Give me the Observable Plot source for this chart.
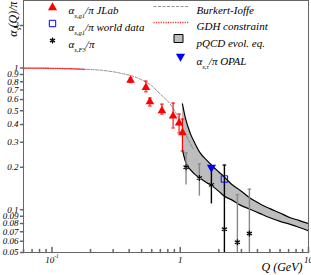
<!DOCTYPE html>
<html><head><meta charset="utf-8">
<script src="https://cdn.jsdelivr.net/npm/d3@7"></script>
<script src="https://cdn.jsdelivr.net/npm/@observablehq/plot@0.6"></script>
<style>html,body{margin:0;padding:0;background:#fff}svg{display:block}</style>
</head><body><div id="chart"></div>
<script>
// ---- data ----
const jlabQ  = [0.41, 0.54, 0.58, 0.72, 0.88, 0.98, 1.04];
const jlabA  = [0.82, 0.73, 0.58, 0.50, 0.46, 0.41, 0.35];
const jlabLo = [0.79, 0.68, 0.54, 0.474, 0.378, 0.349, 0.26];
const jlabHi = [0.855, 0.81, 0.615, 0.557, 0.567, 0.474, 0.437];

const f3Q   = [1.11, 1.41, 1.75, 2.21, 2.79, 3.46];
const f3A   = [0.20, 0.168, 0.15, 0.073, 0.059, 0.068];
const f3Lo  = [0.15, 0.125, 0.11, 0.03, 0.03, 0.03];
const f3Hi  = [0.252, 0.211, 0.198, 0.207, 0.128, 0.14];
const f3Bar = ["#888", "#888", "#000", "#000", "#888", "#888"];

const worldQ = [2.21];
const worldA = [0.165];
const opalQ = [1.75];
const opalA = [0.199];

const biQ = [0.06, 0.1, 0.166, 0.237, 0.34, 0.487, 0.60, 0.698, 0.835, 0.965, 1.114, 1.26];
const biA = [1.0, 0.995, 0.984, 0.968, 0.922, 0.837, 0.75, 0.656, 0.558, 0.45, 0.335, 0.27];

const gdhQ = [0.06, 0.1, 0.14, 0.18];
const gdhA = [1.0, 0.997, 0.99, 0.98];

const bandQ  = [1.04, 1.1, 1.2, 1.3, 1.43, 1.6, 1.78, 2.0, 2.2, 2.5, 2.94, 3.5, 4.2, 5.0, 6.0, 7.2, 8.5, 10];
const bandHi = [0.56, 0.44, 0.345, 0.295, 0.252, 0.225, 0.204, 0.185, 0.171, 0.152, 0.137, 0.121, 0.110, 0.102, 0.095, 0.088, 0.084, 0.080];
const bandLo = [0.265, 0.218, 0.192, 0.178, 0.167, 0.156, 0.147, 0.135, 0.125, 0.118, 0.108, 0.101, 0.094, 0.088, 0.083, 0.079, 0.075, 0.071];

const yTicks = [0.05, 0.06, 0.07, 0.08, 0.09, 0.1, 0.2, 0.3, 0.4, 0.5, 0.6, 0.7, 0.8, 0.9, 1, 2];
const yTickLabels = ["0.05", "0.06", "0.07", "0.08", "0.09", "0.1", "0.2", "0.3", "0.4", "0.5", "0.6", "0.7", "0.8", "0.9", "1", "2"];
const xMinorTicks = [0.06, 0.07, 0.08, 0.09, 0.2, 0.3, 0.4, 0.5, 0.6, 0.7, 0.8, 0.9, 2, 3, 4, 5, 6, 7, 8, 9];
const xMajorTicks = [0.1, 1, 10];
const xTickLabels = ["10^{-1}", "1", "10"];

const legendLeft = ["α_{s,g1}/π JLab", "α_{s,g1}/π world data", "α_{s,F3}/π"];
const legendRight = ["Burkert-Ioffe", "GDH constraint", "pQCD evol. eq.", "α_{s,τ}/π OPAL"];
const yLabel = "α_{s}(Q)/π";
const xLabel = "Q (GeV)";

// ---- build tables ----
const jlab = jlabQ.map((q, i) => ({Q: q, A: jlabA[i], lo: jlabLo[i], hi: jlabHi[i]}));
const f3 = f3Q.map((q, i) => ({Q: q, A: f3A[i], lo: f3Lo[i], hi: f3Hi[i], c: f3Bar[i]}));
const world = worldQ.map((q, i) => ({Q: q, A: worldA[i]}));
const opal = opalQ.map((q, i) => ({Q: q, A: opalA[i]}));
const bi = biQ.map((q, i) => ({Q: q, A: biA[i]}));
const gdh = gdhQ.map((q, i) => ({Q: q, A: gdhA[i]}));
const band = bandQ.map((q, i) => ({Q: q, lo: bandLo[i], hi: bandHi[i]}));

// ---- custom symbols / shapes ----
const cap = {draw(ctx) { ctx.moveTo(-1.8, 0); ctx.lineTo(1.8, 0); }};
const legLine = {draw(ctx) { ctx.moveTo(-18, 0); ctx.lineTo(18, 0); }};
const legBox = {draw(ctx) { ctx.rect(-4.5, -4, 9, 8); }};
const tickShape = {draw(ctx, l) { ctx.moveTo(0, 0); ctx.lineTo(0, -l); }};

const axisColor = "#666";
const font = "Liberation Serif";
const legText = {frameAnchor: "top-left", textAnchor: "start", fontSize: 11, fontStyle: "italic", fill: "black"};

const plot = Plot.plot({
  width: 311, height: 275,
  marginLeft: 23, marginRight: 3, marginTop: 0, marginBottom: 23,
  x: {type: "log", domain: [0.06, 10], axis: null, label: null},
  y: {type: "log", domain: [0.05, 3], axis: null, label: null},
  style: {fontFamily: font, background: "white", overflow: "visible"},
  marks: [
    // pQCD band
    Plot.areaY(band, {x: "Q", y1: "lo", y2: "hi", fill: "#bdbdbd", curve: "monotone-x", clip: true}),
    Plot.line(band, {x: "Q", y: "hi", stroke: "black", strokeWidth: 1.2, curve: "monotone-x", clip: true}),
    Plot.line(band, {x: "Q", y: "lo", stroke: "black", strokeWidth: 1.2, curve: "monotone-x", clip: true}),
    // Burkert-Ioffe
    Plot.line(bi, {x: "Q", y: "A", stroke: "#777", strokeWidth: 0.8, strokeDasharray: "3,1.5", curve: "monotone-x", clip: true}),
    // GDH constraint
    Plot.line(gdh, {x: "Q", y: "A", stroke: "#ff3030", strokeWidth: 1.3, strokeDasharray: "1.2,1.2", curve: "monotone-x", clip: true}),
    // F3 error bars
    Plot.ruleX(f3, {x: "Q", y1: "lo", y2: "hi", stroke: "c", strokeWidth: 1.4, clip: true}),
    Plot.dot(f3, {x: "Q", y: "hi", symbol: cap, stroke: "c", strokeWidth: 1.2, clip: true}),
    // JLab error bars
    Plot.ruleX(jlab, {x: "Q", y1: "lo", y2: "hi", stroke: "#ff0000", strokeWidth: 1.1, clip: true}),
    Plot.dot(jlab, {x: "Q", y: "lo", symbol: cap, stroke: "#ff0000", strokeWidth: 1, clip: true}),
    Plot.dot(jlab, {x: "Q", y: "hi", symbol: cap, stroke: "#ff0000", strokeWidth: 1, clip: true}),
    // markers
    Plot.dot(f3, {x: "Q", y: "A", symbol: "square", r: 2.2, fill: "#999", clip: true}),
    Plot.dot(f3, {x: "Q", y: "A", symbol: "asterisk", r: 2.8, stroke: "black", strokeWidth: 1.1, clip: true}),
    Plot.dot(jlab, {x: "Q", y: "A", symbol: "triangle", r: 3.2, fill: "#ff0000", clip: true}),
    Plot.dot(world, {x: "Q", y: "A", symbol: "square", r: 3.6, fill: "white", fillOpacity: 0, stroke: "#0000ff", strokeWidth: 1, clip: true}),
    Plot.dot(opal, {x: "Q", y: "A", symbol: "triangle", rotate: 180, r: 3.4, fill: "#0000ff", clip: true}),
    // frame and axes
    Plot.frame({stroke: axisColor, strokeWidth: 1}),
    Plot.vector(yTicks, {y: d => d, frameAnchor: "left", length: 3, rotate: -90, anchor: "start", shape: tickShape, stroke: axisColor}),
    Plot.text(yTicks, {y: d => d, text: (d, i) => yTickLabels[i], frameAnchor: "left", dx: -5, textAnchor: "end", fontSize: 9, fontStyle: "italic", fill: "black"}),
    Plot.vector(xMinorTicks, {x: d => d, frameAnchor: "bottom", length: 3, anchor: "start", shape: tickShape, stroke: axisColor}),
    Plot.vector(xMajorTicks, {x: d => d, frameAnchor: "bottom", length: 5, anchor: "start", shape: tickShape, stroke: axisColor}),
    Plot.text(xMajorTicks, {x: d => d, text: (d, i) => xTickLabels[i], frameAnchor: "bottom", dy: 10, fontSize: 9, fontStyle: "italic", fill: "black"}),
    // axis titles
    Plot.text([xLabel], {text: d => d, frameAnchor: "bottom-right", dx: -6, dy: 18, textAnchor: "end", fontSize: 12, fontStyle: "italic", fill: "black"}),
    Plot.text([yLabel], {text: d => d, frameAnchor: "top-left", dx: -15, dy: 1, rotate: -90, textAnchor: "end", fontSize: 12, fontStyle: "italic", fill: "black"}),
    // legend, left column
    Plot.dot([legendLeft[0]], {frameAnchor: "top-left", dx: 29, dy: 7, symbol: "triangle", r: 3.4, fill: "#ff0000"}),
    Plot.dot([legendLeft[1]], {frameAnchor: "top-left", dx: 29, dy: 23, symbol: "square", r: 3.6, fill: "white", stroke: "#0000ff", strokeWidth: 1}),
    Plot.dot([legendLeft[2]], {frameAnchor: "top-left", dx: 29, dy: 40, symbol: "square", r: 2.2, fill: "#999"}),
    Plot.dot([legendLeft[2]], {frameAnchor: "top-left", dx: 29, dy: 40, symbol: "asterisk", r: 2.8, stroke: "black", strokeWidth: 1.1}),
    Plot.text([legendLeft[0]], {...legText, text: d => d, dx: 45, dy: 6}),
    Plot.text([legendLeft[1]], {...legText, text: d => d, dx: 45, dy: 23}),
    Plot.text([legendLeft[2]], {...legText, text: d => d, dx: 45, dy: 40}),
    // legend, right column
    Plot.dot([legendRight[0]], {frameAnchor: "top-left", dx: 148, dy: 6, symbol: legLine, stroke: "#777", strokeWidth: 0.8, strokeDasharray: "3,1.5"}),
    Plot.dot([legendRight[1]], {frameAnchor: "top-left", dx: 148, dy: 22, symbol: legLine, stroke: "#ff3030", strokeWidth: 1.3, strokeDasharray: "1.2,1.2"}),
    Plot.dot([legendRight[2]], {frameAnchor: "top-left", dx: 155, dy: 38, symbol: legBox, fill: "#bdbdbd", stroke: "black", strokeWidth: 1}),
    Plot.dot([legendRight[3]], {frameAnchor: "top-left", dx: 157, dy: 56, symbol: "triangle", rotate: 180, r: 3.4, fill: "#0000ff"}),
    Plot.text([legendRight[0]], {...legText, text: d => d, dx: 173, dy: 6}),
    Plot.text([legendRight[1]], {...legText, text: d => d, dx: 173, dy: 22}),
    Plot.text([legendRight[2]], {...legText, text: d => d, dx: 173, dy: 39}),
    Plot.text([legendRight[3]], {...legText, text: d => d, dx: 173, dy: 57})
  ]
});

document.getElementById("chart").appendChild(plot);

// turn _{..} / ^{..} markup into sub/superscript tspans
function richify(svg) {
  d3.select(svg).selectAll("text").each(function () {
    const t = this;
    const s = t.textContent;
    if (!/[_^]\{/.test(s)) return;
    const fs = parseFloat(getComputedStyle(t).fontSize) || 10;
    while (t.firstChild) t.removeChild(t.firstChild);
    const re = /([_^])\{([^}]*)\}/g;
    let last = 0, m, off = 0;
    const add = (txt, shift, small) => {
      const ts = document.createElementNS("http://www.w3.org/2000/svg", "tspan");
      ts.textContent = txt;
      const dy = shift - off;
      if (dy) ts.setAttribute("dy", dy.toFixed(2));
      off = shift;
      if (small) ts.setAttribute("font-size", (fs * 0.6).toFixed(2));
      t.appendChild(ts);
    };
    while ((m = re.exec(s))) {
      if (m.index > last) add(s.slice(last, m.index), 0, false);
      add(m[2], m[1] === "_" ? fs * 0.3 : -fs * 0.45, true);
      last = re.lastIndex;
    }
    if (last < s.length) add(s.slice(last), 0, false);
  });
}
richify(plot);
</script>
</body></html>
